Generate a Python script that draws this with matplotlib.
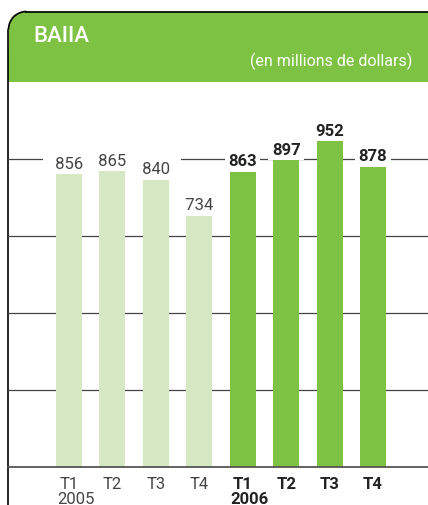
import matplotlib
matplotlib.use("Agg")
from matplotlib import pyplot as plt
from matplotlib.patches import FancyBboxPatch, Rectangle, Arc

# data
quarters = ["T1", "T2", "T3", "T4", "T1", "T2", "T3", "T4"]
years = ["2005", "2006"]
baiia = [856, 865, 840, 734, 863, 897, 952, 878]
grid_vals = [225, 450, 675, 900]

green = "#7DC243"
light_green = "#D5E8C3"
W, H = 428, 506

fig = plt.figure(figsize=(W / 100, H / 100), dpi=100)

# background frame (pixel coords)
bg = fig.add_axes([0, 0, 1, 1])
bg.set_xlim(0, W)
bg.set_ylim(H, 0)
bg.axis("off")
r = 18
bg.add_patch(FancyBboxPatch((8.5, 12.5), 600, 70.5, boxstyle="round,pad=0,rounding_size=%d" % r,
                            fc=green, ec="none"))
bg.add_patch(Rectangle((8.5, 50), 600, 33, fc=green, ec="none"))
bg.plot([8.5 + r, W + 2], [12.5, 12.5], color="black", lw=1.2)
bg.plot([8.5, 8.5], [12.5 + r, H + 2], color="black", lw=1.2)
bg.add_patch(Arc((8.5 + r, 12.5 + r), 2 * r, 2 * r, theta1=180, theta2=270, color="black", lw=1.2))
bg.text(33, 36, "BAIIA", color="white", fontsize=16, family="Roboto", fontweight="medium",
        ha="left", va="center")
bg.text(412, 61, "(en millions de dollars)", color="white", fontsize=11.5, family="Roboto",
        ha="right", va="center")

# chart
ax = fig.add_axes([8 / W, (H - 468) / H, 1 - 8 / W, (468 - 83) / H])
ax.patch.set_alpha(0)
x = list(range(len(baiia)))
colors = [light_green] * 4 + [green] * 4
ax.bar(x, baiia, width=0.6, color=colors, zorder=2)
for g in grid_vals:
    ax.axhline(g, color="#444444", lw=0.9, zorder=1)

for i, v in enumerate(baiia):
    if i < 4:
        ax.annotate("  %d  " % v, (i, v), xytext=(0, 2.5), textcoords="offset points",
                    ha="center", va="bottom", fontsize=12, family="Roboto",
                    color="#444444", zorder=3,
                    bbox=dict(boxstyle="square,pad=0.2", fc="white", ec="none"))
    else:
        ax.annotate(str(v), (i, v), xytext=(0, 2.5), textcoords="offset points",
                    ha="center", va="bottom", fontsize=12, family="Roboto", fontweight="bold",
                    color="#222222", zorder=3,
                    bbox=dict(boxstyle="square,pad=0.2", fc="white", ec="none"))

ax.set_xlim(-1.405, 8.266)
ax.set_ylim(0, 1125)
ax.set_yticks([])
ax.set_xticks(x)
ax.set_xticklabels(quarters, fontsize=12, family="Roboto")
for i, lbl in enumerate(ax.get_xticklabels()):
    if i < 4:
        lbl.set_color("#444444")
    else:
        lbl.set_fontweight("bold")
        lbl.set_color("#222222")
ax.tick_params(axis="x", length=0, pad=6.5)
for s in ["left", "right", "top"]:
    ax.spines[s].set_visible(False)
ax.spines["bottom"].set_color("#555555")
ax.spines["bottom"].set_linewidth(1.3)

for k, yr in enumerate(years):
    ax.annotate(yr, (4 * k - 0.28, 0), xycoords=("data", "axes fraction"),
                xytext=(0, -17.5), textcoords="offset points", ha="left", va="top",
                fontsize=12, family="Roboto",
                fontweight="normal" if k == 0 else "bold",
                color="#444444" if k == 0 else "#222222")

fig.savefig("out.png", dpi=100)
